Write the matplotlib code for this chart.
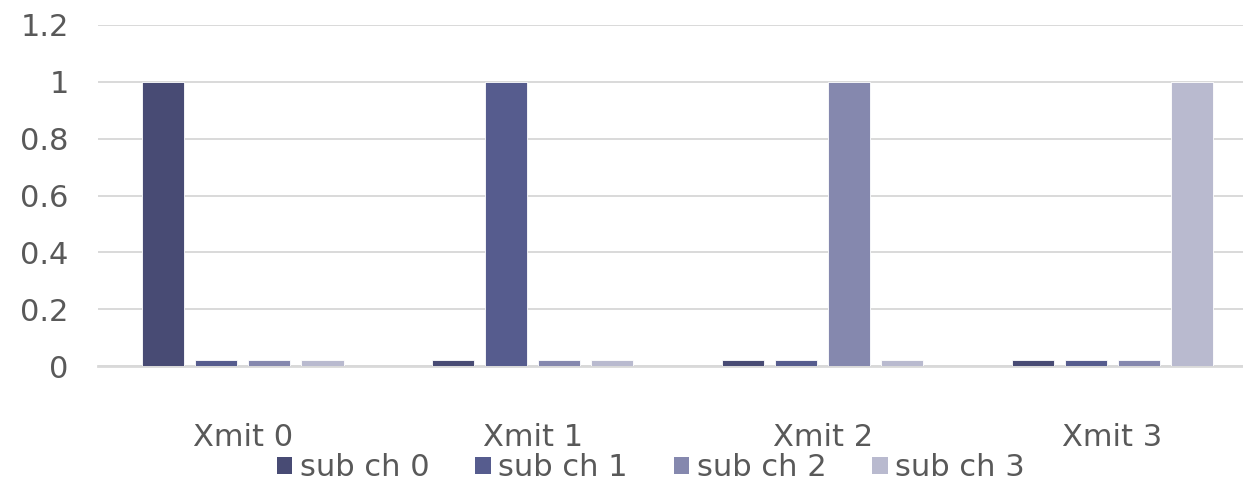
import matplotlib.pyplot as plt
from matplotlib.patches import Patch
import numpy as np

categories = ["Xmit 0", "Xmit 1", "Xmit 2", "Xmit 3"]
series = ["sub ch 0", "sub ch 1", "sub ch 2", "sub ch 3"]
values = [
    [1.0, 0.02, 0.02, 0.02],   # sub ch 0
    [0.02, 1.0, 0.02, 0.02],   # sub ch 1
    [0.02, 0.02, 1.0, 0.02],   # sub ch 2
    [0.02, 0.02, 0.02, 1.0],   # sub ch 3
]
colors = ["#484B74", "#565C8E", "#8588AE", "#B9BACF"]

plt.rcParams['font.family'] = ['DejaVu Sans']
text_color = "#595959"
fs = 22

fig = plt.figure(figsize=(12.43, 4.83), dpi=100)
ax = fig.add_axes([98 / 1243, 1 - 366 / 483, 1 - 98 / 1243, (366 - 25) / 483])

x = np.arange(len(categories))
width = 0.145
pitch = 0.183
for i, (name, vals) in enumerate(zip(series, values)):
    ax.bar(x + (i - 1.5) * pitch, vals, width, color=colors[i],
           edgecolor="white", linewidth=0.6, label=name, zorder=3)

ax.set_xlim(-0.5, 3.45)
ax.set_ylim(0, 1.2)
ax.set_yticks([0, 0.2, 0.4, 0.6, 0.8, 1, 1.2])
ax.set_yticklabels(["0", "0.2", "0.4", "0.6", "0.8", "1", "1.2"])
ax.set_xticks(x)
ax.set_xticklabels(categories)
ax.tick_params(axis="both", length=0, labelsize=fs, colors=text_color)
ax.tick_params(axis="y", pad=21)
ax.tick_params(axis="x", pad=41)
ax.grid(axis="y", color="#D9D9D9", linewidth=1.4, zorder=0)
for s in ["top", "right", "left"]:
    ax.spines[s].set_visible(False)
ax.spines["bottom"].set_color("#D9D9D9")
ax.spines["bottom"].set_linewidth(2)

handles = [Patch(facecolor=c, edgecolor="none") for c in colors]
fig.legend(handles, series, loc="center", bbox_to_anchor=(651 / 1243, 1 - 468 / 483),
           ncol=4, frameon=False, fontsize=fs, labelcolor=text_color,
           handlelength=0.5, handleheight=0.5, handletextpad=0.25, columnspacing=1.5)

fig.savefig("out.png", dpi=100)
